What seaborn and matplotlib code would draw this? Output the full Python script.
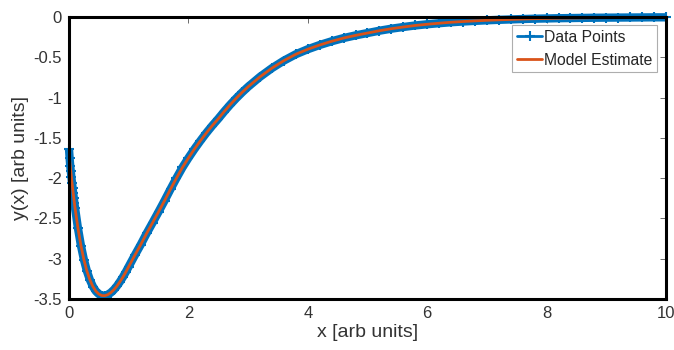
import matplotlib
matplotlib.use("Agg")
import matplotlib.pyplot as plt
import seaborn as sns
import pandas as pd
from matplotlib.ticker import FormatStrFormatter

# values
x_vals = [0.00, 0.01, 0.02, 0.03, 0.04, 0.05, 0.06, 0.07, 0.08, 0.09, 0.10,
          0.15, 0.20, 0.25, 0.30, 0.35, 0.40, 0.45, 0.50, 0.55, 0.60,
          0.65, 0.70, 0.75, 0.80, 0.85, 0.90, 0.95, 1.00,
          1.1, 1.2, 1.3, 1.4, 1.5, 1.6, 1.7, 1.8, 1.9, 2.0,
          2.1, 2.2, 2.3, 2.4, 2.5, 2.6, 2.7, 2.8, 2.9, 3.0,
          3.2, 3.4, 3.6, 3.8, 4.0, 4.2, 4.4, 4.6, 4.8, 5.0,
          5.2, 5.4, 5.6, 5.8, 6.0, 6.2, 6.4, 6.6, 6.8, 7.0,
          7.2, 7.4, 7.6, 7.8, 8.0, 8.2, 8.4, 8.6, 8.8, 9.0,
          9.2, 9.4, 9.6, 9.8, 10.0]
y_data = [-1.64, -1.75, -1.845, -1.917, -1.988, -2.056, -2.122, -2.186, -2.247, -2.307, -2.365,
          -2.623, -2.838, -3.014, -3.154, -3.263, -3.345, -3.403, -3.439, -3.457, -3.459,
          -3.446, -3.421, -3.386, -3.342, -3.289, -3.231, -3.167, -3.098,
          -2.960, -2.827, -2.686, -2.553, -2.418, -2.280, -2.137, -1.999, -1.867, -1.750,
          -1.640, -1.537, -1.439, -1.348, -1.263, -1.173, -1.088, -1.009, -0.935, -0.866,
          -0.742, -0.634, -0.541, -0.462, -0.400, -0.347, -0.301, -0.261, -0.228, -0.199,
          -0.170, -0.145, -0.124, -0.105, -0.090, -0.077, -0.065, -0.056, -0.048, -0.041,
          -0.035, -0.030, -0.025, -0.021, -0.018, -0.015, -0.013, -0.011, -0.009, -0.008,
          -0.007, -0.006, -0.005, -0.004, -0.004]
y_model = [-1.691, -1.769, -1.845, -1.917, -1.988, -2.056, -2.122, -2.186, -2.247, -2.307, -2.365,
           -2.623, -2.838, -3.014, -3.154, -3.263, -3.345, -3.403, -3.439, -3.457, -3.459,
           -3.446, -3.421, -3.386, -3.342, -3.289, -3.231, -3.167, -3.098,
           -2.960, -2.827, -2.686, -2.553, -2.418, -2.280, -2.137, -1.999, -1.867, -1.750,
           -1.640, -1.537, -1.439, -1.348, -1.263, -1.173, -1.088, -1.009, -0.935, -0.866,
           -0.742, -0.634, -0.541, -0.462, -0.400, -0.347, -0.301, -0.261, -0.228, -0.199,
           -0.170, -0.145, -0.124, -0.105, -0.090, -0.077, -0.065, -0.056, -0.048, -0.041,
           -0.035, -0.030, -0.025, -0.021, -0.018, -0.015, -0.013, -0.011, -0.009, -0.008,
           -0.007, -0.006, -0.005, -0.004, -0.004]
x_ticks = [0, 2, 4, 6, 8, 10]
y_ticks = [0, -0.5, -1, -1.5, -2, -2.5, -3, -3.5]

blue = '#0072BD'
orange = '#D95319'

sns.set_style("white")
plt.rcParams['font.family'] = ['Liberation Sans', 'DejaVu Sans']
plt.rcParams['axes.unicode_minus'] = False

df = pd.DataFrame({'x': x_vals, 'data': y_data, 'model': y_model})

fig = plt.figure(figsize=(6.74, 3.5), dpi=100)
ax = fig.add_axes([0.1024, 0.1457, 0.8857, 0.8057])

# thick band imitating the dense marker cloud
sns.lineplot(data=df, x='x', y='data', ax=ax, color=blue, linewidth=6, sort=False,
             clip_on=False, legend=False, solid_capstyle='butt')
sns.lineplot(data=df, x='x', y='data', ax=ax, color=blue, linewidth=2, marker='+',
             markersize=7, markeredgewidth=1.5, markeredgecolor=blue, sort=False,
             clip_on=False, label='Data Points')
sns.lineplot(data=df, x='x', y='model', ax=ax, color=orange, linewidth=2, sort=False,
             label='Model Estimate')

ax.set_xlim(0, 10)
ax.set_ylim(-3.5, 0)
ax.set_xticks(x_ticks)
ax.set_yticks(y_ticks)
ax.yaxis.set_major_formatter(FormatStrFormatter('%g'))
ax.tick_params(direction='in', length=4, width=0.6, color='#555555', labelcolor='#333333',
               labelsize=12, top=True, right=True, pad=5)
for s in ax.spines.values():
    s.set_color('black')
    s.set_linewidth(2.2)
ax.set_xlabel('x [arb units]', fontsize=14, color='#333333', labelpad=2)
ax.set_ylabel('y(x) [arb units]', fontsize=14, color='#333333', labelpad=3)

leg = ax.legend(loc='upper right', bbox_to_anchor=(0.99, 0.982), fontsize=11.3, frameon=True,
                fancybox=False, edgecolor='#9a9a9a', handlelength=1.6, handletextpad=0.1,
                borderpad=0.3, labelspacing=0.5, borderaxespad=0.2)
leg.get_frame().set_linewidth(0.8)

fig.savefig('out.png', dpi=100)
